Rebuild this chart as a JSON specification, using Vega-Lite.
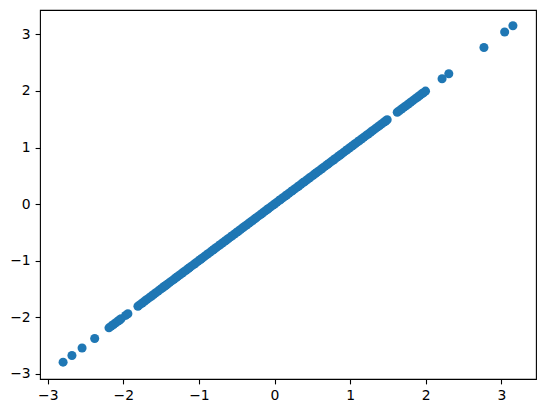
{
  "$schema": "https://vega.github.io/schema/vega-lite/v6.json",
  "autosize": {"type": "none"},
  "padding": {"left": 40, "top": 10, "right": 10, "bottom": 34},
  "width": 496,
  "height": 369,
  "background": "white",
  "config": {
    "view": {"stroke": "black", "strokeWidth": 1.1},
    "axis": {
      "domain": false,
      "grid": false,
      "ticks": true,
      "tickColor": "black",
      "tickSize": 4.9,
      "tickWidth": 1.1,
      "labelFont": "DejaVu Sans",
      "labelFontSize": 13.9,
      "labelColor": "black",
      "labelPadding": 4.9,
      "title": null
    }
  },
  "data": {
    "values": [
      {"x": -2.797, "y": -2.797}, {"x": -2.68, "y": -2.68}, {"x": -2.546, "y": -2.546}, {"x": -2.379, "y": -2.379},
      {"x": -2.19, "y": -2.19}, {"x": -2.16, "y": -2.16}, {"x": -2.13, "y": -2.13}, {"x": -2.10, "y": -2.10},
      {"x": -2.07, "y": -2.07}, {"x": -2.05, "y": -2.05}, {"x": -2.03, "y": -2.03}, {"x": -1.97, "y": -1.97},
      {"x": -1.94, "y": -1.94}, {"x": -1.807, "y": -1.807}, {"x": -1.78, "y": -1.78}, {"x": -1.75, "y": -1.75},
      {"x": -1.72, "y": -1.72}, {"x": -1.69, "y": -1.69}, {"x": -1.66, "y": -1.66}, {"x": -1.63, "y": -1.63},
      {"x": -1.60, "y": -1.60}, {"x": -1.57, "y": -1.57}, {"x": -1.54, "y": -1.54}, {"x": -1.51, "y": -1.51},
      {"x": -1.48, "y": -1.48}, {"x": -1.46, "y": -1.46}, {"x": -1.44, "y": -1.44}, {"x": -1.42, "y": -1.42},
      {"x": -1.39, "y": -1.39}, {"x": -1.36, "y": -1.36}, {"x": -1.33, "y": -1.33}, {"x": -1.30, "y": -1.30},
      {"x": -1.28, "y": -1.28}, {"x": -1.25, "y": -1.25}, {"x": -1.22, "y": -1.22}, {"x": -1.20, "y": -1.20},
      {"x": -1.17, "y": -1.17}, {"x": -1.14, "y": -1.14}, {"x": -1.12, "y": -1.12}, {"x": -1.09, "y": -1.09},
      {"x": -1.06, "y": -1.06}, {"x": -1.04, "y": -1.04}, {"x": -1.01, "y": -1.01}, {"x": -0.98, "y": -0.98},
      {"x": -0.96, "y": -0.96}, {"x": -0.93, "y": -0.93}, {"x": -0.90, "y": -0.90}, {"x": -0.88, "y": -0.88},
      {"x": -0.85, "y": -0.85}, {"x": -0.82, "y": -0.82}, {"x": -0.80, "y": -0.80}, {"x": -0.77, "y": -0.77},
      {"x": -0.74, "y": -0.74}, {"x": -0.72, "y": -0.72}, {"x": -0.69, "y": -0.69}, {"x": -0.66, "y": -0.66},
      {"x": -0.64, "y": -0.64}, {"x": -0.61, "y": -0.61}, {"x": -0.58, "y": -0.58}, {"x": -0.56, "y": -0.56},
      {"x": -0.53, "y": -0.53}, {"x": -0.50, "y": -0.50}, {"x": -0.48, "y": -0.48}, {"x": -0.45, "y": -0.45},
      {"x": -0.42, "y": -0.42}, {"x": -0.40, "y": -0.40}, {"x": -0.37, "y": -0.37}, {"x": -0.34, "y": -0.34},
      {"x": -0.32, "y": -0.32}, {"x": -0.29, "y": -0.29}, {"x": -0.26, "y": -0.26}, {"x": -0.24, "y": -0.24},
      {"x": -0.21, "y": -0.21}, {"x": -0.18, "y": -0.18}, {"x": -0.16, "y": -0.16}, {"x": -0.13, "y": -0.13},
      {"x": -0.10, "y": -0.10}, {"x": -0.08, "y": -0.08}, {"x": -0.05, "y": -0.05}, {"x": -0.02, "y": -0.02},
      {"x": 0.00, "y": 0.00}, {"x": 0.03, "y": 0.03}, {"x": 0.06, "y": 0.06}, {"x": 0.08, "y": 0.08},
      {"x": 0.11, "y": 0.11}, {"x": 0.14, "y": 0.14}, {"x": 0.16, "y": 0.16}, {"x": 0.19, "y": 0.19},
      {"x": 0.22, "y": 0.22}, {"x": 0.24, "y": 0.24}, {"x": 0.27, "y": 0.27}, {"x": 0.30, "y": 0.30},
      {"x": 0.32, "y": 0.32}, {"x": 0.35, "y": 0.35}, {"x": 0.38, "y": 0.38}, {"x": 0.40, "y": 0.40},
      {"x": 0.43, "y": 0.43}, {"x": 0.46, "y": 0.46}, {"x": 0.48, "y": 0.48}, {"x": 0.51, "y": 0.51},
      {"x": 0.54, "y": 0.54}, {"x": 0.56, "y": 0.56}, {"x": 0.59, "y": 0.59}, {"x": 0.62, "y": 0.62},
      {"x": 0.64, "y": 0.64}, {"x": 0.67, "y": 0.67}, {"x": 0.70, "y": 0.70}, {"x": 0.72, "y": 0.72},
      {"x": 0.75, "y": 0.75}, {"x": 0.78, "y": 0.78}, {"x": 0.80, "y": 0.80}, {"x": 0.83, "y": 0.83},
      {"x": 0.86, "y": 0.86}, {"x": 0.88, "y": 0.88}, {"x": 0.91, "y": 0.91}, {"x": 0.94, "y": 0.94},
      {"x": 0.96, "y": 0.96}, {"x": 0.99, "y": 0.99}, {"x": 1.02, "y": 1.02}, {"x": 1.04, "y": 1.04},
      {"x": 1.07, "y": 1.07}, {"x": 1.10, "y": 1.10}, {"x": 1.12, "y": 1.12}, {"x": 1.15, "y": 1.15},
      {"x": 1.18, "y": 1.18}, {"x": 1.21, "y": 1.21}, {"x": 1.24, "y": 1.24}, {"x": 1.27, "y": 1.27},
      {"x": 1.30, "y": 1.30}, {"x": 1.33, "y": 1.33}, {"x": 1.36, "y": 1.36}, {"x": 1.39, "y": 1.39},
      {"x": 1.42, "y": 1.42}, {"x": 1.45, "y": 1.45}, {"x": 1.47, "y": 1.47}, {"x": 1.49, "y": 1.49},
      {"x": 1.623, "y": 1.623}, {"x": 1.65, "y": 1.65}, {"x": 1.68, "y": 1.68}, {"x": 1.71, "y": 1.71},
      {"x": 1.74, "y": 1.74}, {"x": 1.77, "y": 1.77}, {"x": 1.80, "y": 1.80}, {"x": 1.83, "y": 1.83},
      {"x": 1.86, "y": 1.86}, {"x": 1.89, "y": 1.89}, {"x": 1.92, "y": 1.92}, {"x": 1.95, "y": 1.95},
      {"x": 1.97, "y": 1.97}, {"x": 1.997, "y": 1.997}, {"x": 2.216, "y": 2.216}, {"x": 2.305, "y": 2.305},
      {"x": 2.77, "y": 2.77}, {"x": 3.044, "y": 3.044}, {"x": 3.153, "y": 3.153}
    ]
  },
  "mark": {"type": "circle", "size": 82, "color": "#1f77b4", "opacity": 1},
  "encoding": {
    "x": {
      "field": "x", "type": "quantitative",
      "scale": {"domain": [-3.1025, 3.4585], "nice": false, "zero": false},
      "axis": {"values": [-3, -2, -1, 0, 1, 2, 3], "format": "d"}
    },
    "y": {
      "field": "y", "type": "quantitative",
      "scale": {"domain": [-3.095, 3.4325], "nice": false, "zero": false},
      "axis": {"values": [-3, -2, -1, 0, 1, 2, 3], "format": "d"}
    }
  }
}
